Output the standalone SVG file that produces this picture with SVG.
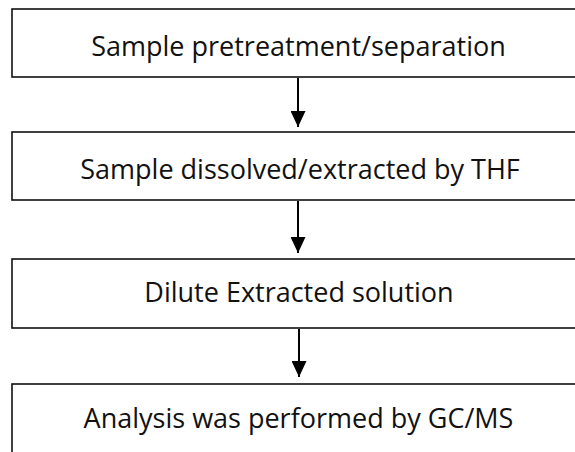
<svg xmlns="http://www.w3.org/2000/svg" width="575" height="452" viewBox="0 0 575 452">
  <style>
    .box { fill: #ffffff; stroke: #111111; stroke-width: 1.6; }
    .lbl { font-family: "Open Sans", "Noto Sans", "DejaVu Sans", sans-serif; font-size: 27px; fill: #111111; text-anchor: middle; }
    .conn { stroke: #000000; stroke-width: 2; fill: none; }
  </style>
  <defs>
    <marker id="ah" viewBox="0 0 16 15" refX="16" refY="7.5" markerWidth="16" markerHeight="15" markerUnits="userSpaceOnUse" orient="auto">
      <path d="M0,0 L16,7.5 L0,15 Z" fill="#000000"/>
    </marker>
  </defs>
  <rect width="575" height="452" fill="#ffffff"/>
  <g id="node1">
    <rect class="box" x="12" y="9" width="600" height="68"/>
    <text class="lbl" x="298.5" y="56">Sample pretreatment/separation</text>
  </g>
  <g id="node2">
    <rect class="box" x="12" y="132" width="600" height="68"/>
    <text class="lbl" x="300" y="179">Sample dissolved/extracted by THF</text>
  </g>
  <g id="node3">
    <rect class="box" x="12" y="259" width="600" height="69"/>
    <text class="lbl" x="299" y="302">Dilute Extracted solution</text>
  </g>
  <g id="node4">
    <rect class="box" x="12" y="384" width="600" height="100"/>
    <text class="lbl" x="298.5" y="428">Analysis was performed by GC/MS</text>
  </g>
  <g id="connectors">
    <line class="conn" x1="298" y1="78" x2="298" y2="127" marker-end="url(#ah)"/>
    <line class="conn" x1="298" y1="201" x2="298" y2="253" marker-end="url(#ah)"/>
    <line class="conn" x1="299" y1="329" x2="299" y2="377" marker-end="url(#ah)"/>
  </g>
</svg>
